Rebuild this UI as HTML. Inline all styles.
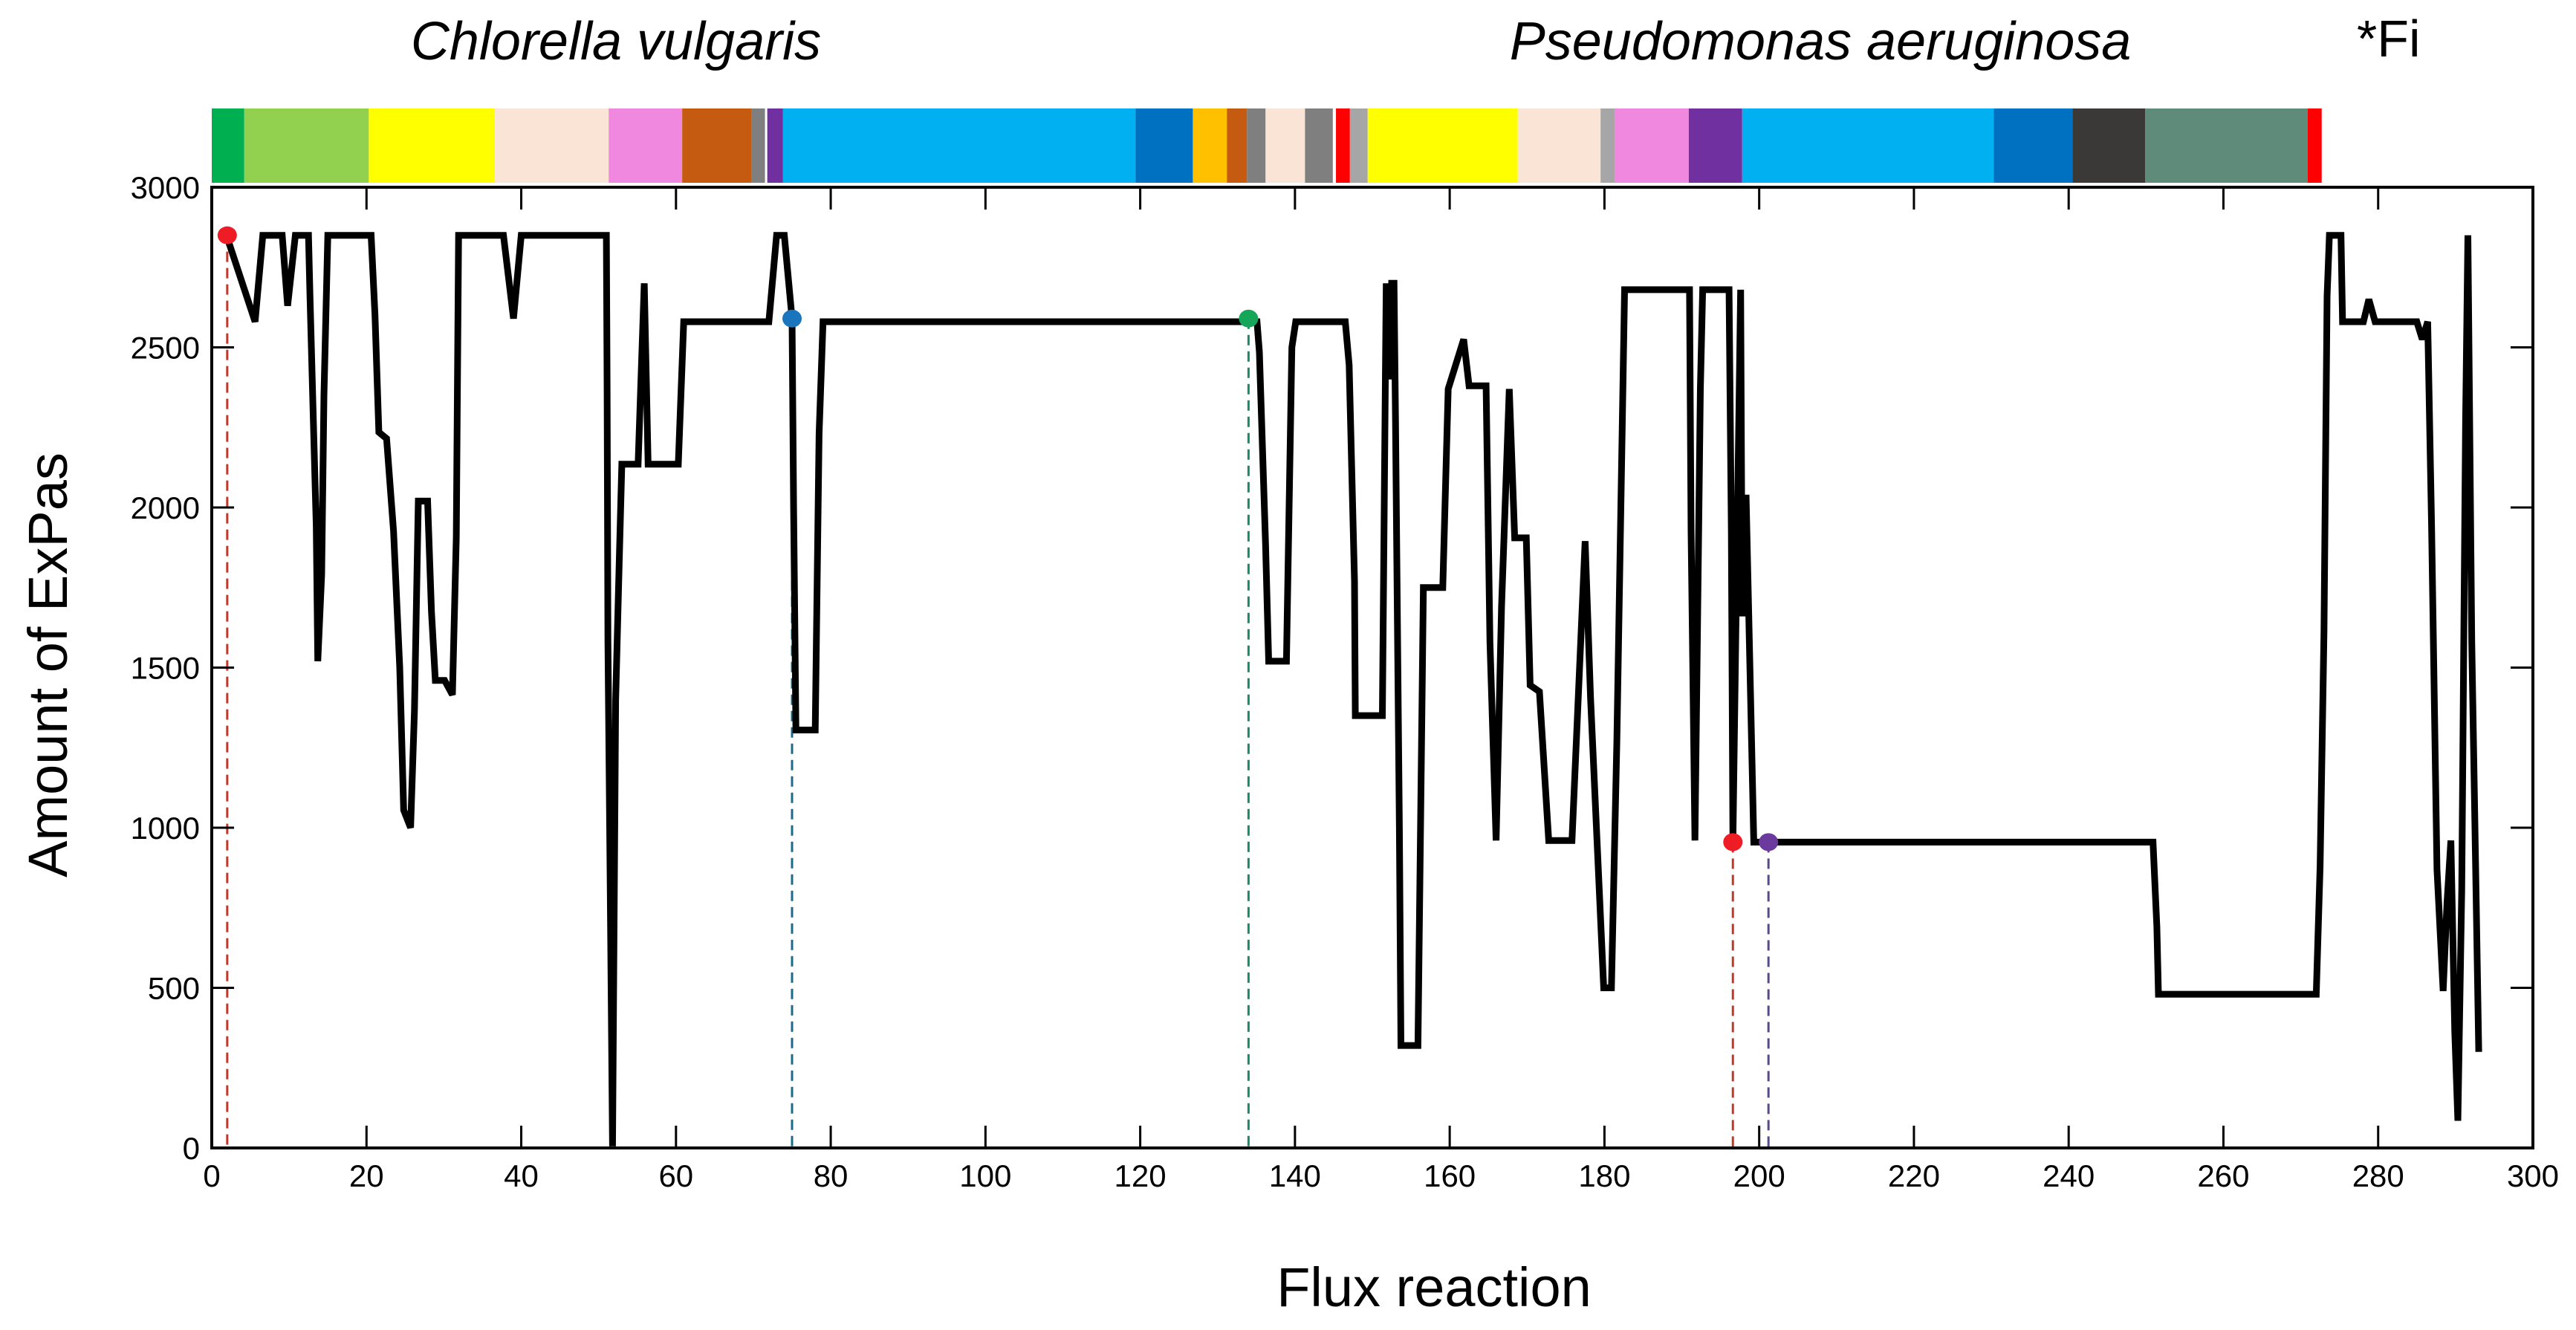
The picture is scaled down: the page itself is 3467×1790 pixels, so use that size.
<!DOCTYPE html>
<html><head><meta charset="utf-8"><style>
html,body{margin:0;padding:0;background:#fff;}
svg{display:block;font-family:"Liberation Sans",sans-serif;}
</style></head><body>
<svg id="chart" width="3467" height="1790" viewBox="0 0 3467 1790" xmlns="http://www.w3.org/2000/svg">
<rect width="3467" height="1790" fill="#fff"/>
<text x="829" y="80" font-size="72" font-style="italic" text-anchor="middle">Chlorella vulgaris</text>
<text x="2450" y="80" font-size="72" font-style="italic" text-anchor="middle">Pseudomonas  aeruginosa</text>
<text x="3172" y="76" font-size="70">*Fi</text>
<g id="colorbar"></g>
<g id="plot"></g>
<text transform="translate(90,895) rotate(-90)" font-size="74" text-anchor="middle">Amount of ExPas</text>
<text x="1930" y="1758" font-size="74" text-anchor="middle">Flux reaction</text>
</svg>
<script>
const xs = [1.9,5.6,6.6,9.1,9.8,10.8,12.5,12.7,13.1,13.5,
13.7,14.2,14.5,15,20.6,21.1,21.6,22.6,23.5,24.3,
24.8,25.7,26.2,26.7,27.9,28.4,28.9,30.1,31.1,31.6,
31.9,37.7,39,40,51,51.1,51.2,51.5,51.8,52.2,
52.7,53,55.1,55.9,56.4,60.3,61,72,73,74,
75,75.2,75.5,78,78.5,79,135.1,135.4,136.2,136.6,
138.9,139.6,140.1,146.5,147,147.7,147.8,150.8,151.3,151.8,
152.2,152.5,152.8,153,153.5,153.7,155.9,156.6,159.1,159.8,
161.8,162.5,164.7,165.2,166,166.7,167.7,168.4,169.9,170.4,
171.6,172.8,175.8,177.5,178.2,179.9,180.9,181.6,182.6,191,
191.2,191.7,192.4,192.7,196.1,196.4,196.6,197.6,197.8,198.3,
198.8,199.3,250.9,251.4,251.6,272,272.5,273,273.4,273.7,
275.2,275.4,278.1,278.8,279.6,285,285.7,286.4,286.9,287.6,
288.4,288.9,289.4,289.9,290.3,290.8,291.3,291.6,292.1,292.5,
293];
const ys = [2850,2580,2850,2850,2630,2850,2850,2660,2300,1945,
1520,1790,2350,2850,2850,2600,2235,2215,1925,1500,
1055,1000,1365,2020,2020,1675,1460,1460,1415,1905,
2850,2850,2590,2850,2850,2370,1580,810,5,1400,
1865,2135,2135,2700,2135,2135,2580,2580,2850,2850,
2590,2000,1305,1305,2230,2580,2580,2485,1885,1520,
1520,2500,2580,2580,2445,1770,1350,1350,1350,2700,
2400,2700,2700,2270,1000,320,320,1750,1750,2370,
2525,2380,2380,1580,960,1690,2370,1905,1905,1445,
1425,960,960,1895,1405,500,500,1270,2680,2680,
1925,960,2370,2680,2680,1925,960,2680,1660,2040,
1500,955,955,690,480,480,880,1610,2660,2850,
2850,2580,2580,2650,2580,2580,2525,2580,1945,870,
490,765,960,365,85,805,2270,2850,1580,1015,
300];
const xTicks = [0,20,40,60,80,100,120,140,160,180,200,220,240,260,280,300];
const yTicks = [0,500,1000,1500,2000,2500,3000];
const markerX = [2,75,134,196.6,201.2];
const markerY = [2850,2590,2590,955,955];
const markerColors = ["#ee1c24","#1b75bc","#16a65a","#ee1c24","#6a3a9c"];
const lineColors = ["#c0392b","#1d6b8a","#1a8a66","#c0392b","#5a4a8a"];
const segStart = [0,4.2,20.3,36.6,51.3,60.8,69.8,71.8,73.8,119.4,126.8,131.2,133.8,136.2,141.3,144.9,145.3,147.1,149.4,168.8,179.5,181.3,190.9,197.8,230.3,240.5,249.9,270.9];
const segEnd = [4.2,20.3,36.6,51.3,60.8,69.8,71.5,73.8,119.4,126.8,131.2,133.8,136.2,141.3,144.9,145.3,147.1,149.4,168.8,179.5,181.3,190.9,197.8,230.3,240.5,249.9,270.9,272.7];
const segColors = ["#00b050","#92d050","#ffff00","#fae4d5","#f088e0","#c55a11","#7f7f7f","#7030a0","#00b0f0","#0070c0","#ffc000","#c55a11","#7f7f7f","#fae4d5","#7f7f7f","#ffffff","#ff0000","#a6a6a6","#ffff00","#fae4d5","#a6a6a6","#f088e0","#7030a0","#00b0f0","#0070c0","#3b3838","#5f8b7b","#ff0000"];

const L=285,R=3409,T=252,B=1545;
const sx=v=>L+(v-0)/(300-0)*(R-L);
const sy=v=>B-(v-0)/(3000-0)*(B-T);
const NS="http://www.w3.org/2000/svg";
function mk(tag,attrs,parent){const e=document.createElementNS(NS,tag);for(const k in attrs)e.setAttribute(k,attrs[k]);parent.appendChild(e);return e;}
const cb=document.getElementById('colorbar');
for(let i=0;i<segStart.length;i++){
  const r=mk('rect',{x:sx(segStart[i]),y:146,width:sx(segEnd[i])-sx(segStart[i]),height:100,fill:segColors[i]},cb);
  
  
}
const g=document.getElementById('plot');
for(let i=0;i<markerX.length;i++){
  const l=mk('line',{x1:sx(markerX[i]),x2:sx(markerX[i]),y1:sy(markerY[i]),y2:B,stroke:lineColors[i],'stroke-width':3,'stroke-dasharray':'14,8'},g);
  
  
}
let d='';
const n=Math.min(xs.length,ys.length);
for(let i=0;i<n;i++){d+=(i?'L':'M')+sx(xs[i]).toFixed(1)+','+sy(ys[i]).toFixed(1);}
const p=mk('path',{d:d,fill:'none',stroke:'#000','stroke-width':9,'stroke-linejoin':'miter','stroke-miterlimit':3},g);


for(let i=0;i<markerX.length;i++){
  const c=mk('ellipse',{cx:sx(markerX[i]),cy:sy(markerY[i]),rx:13,ry:12,fill:markerColors[i]},g);
  
  
}
const box=mk('rect',{x:L,y:T,width:R-L,height:B-T,fill:'none',stroke:'#000','stroke-width':4},g);


for(const v of xTicks){
  const x=sx(v);
  mk('line',{x1:x,x2:x,y1:B,y2:B-30,stroke:'#000','stroke-width':3},g);
  mk('line',{x1:x,x2:x,y1:T,y2:T+30,stroke:'#000','stroke-width':3},g);
  const t=mk('text',{x:x,y:B+52,'font-size':42,'text-anchor':'middle'},g);
  t.textContent=v;
  
  
}
for(const v of yTicks){
  const y=sy(v);
  mk('line',{x1:L,x2:L+30,y1:y,y2:y,stroke:'#000','stroke-width':3},g);
  mk('line',{x1:R,x2:R-30,y1:y,y2:y,stroke:'#000','stroke-width':3},g);
  const t=mk('text',{x:L-16,y:y+15,'font-size':42,'text-anchor':'end'},g);
  t.textContent=v;
  
  
}
</script>
</body></html>
